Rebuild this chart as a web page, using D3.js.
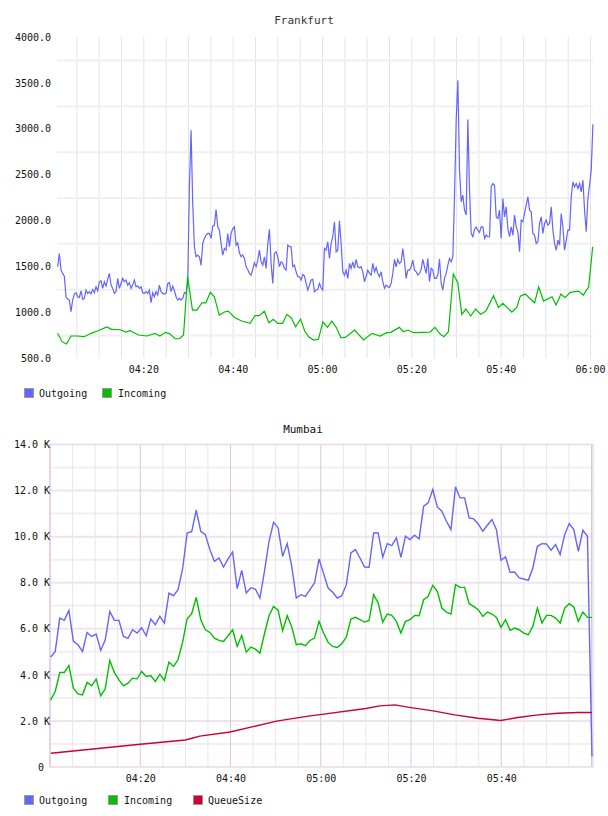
<!DOCTYPE html>
<html><head><meta charset="utf-8">
<script src="https://cdn.jsdelivr.net/npm/d3@7"></script>
<style>body{margin:0;background:#fff} svg{display:block}</style>
</head><body><svg id="c" width="608" height="816"></svg>
<script>
// ---------------- DATA ----------------
const seriesNames = ["Outgoing", "Incoming", "QueueSize"];
const seriesColors = ["#6464ff", "#00c000", "#cc0033"];

// Frankfurt — Outgoing, sampled every 22.4 s starting 04:00:49
const frankfurtOutStartMin = 0.82;
const frankfurtOutStepMin = 0.3733;
const frankfurtOutgoing = [
1495,1640,1459,1422,1393,1168,1143,1132,1005,1132,
1197,1212,1168,1161,1233,1139,1150,1241,1204,1223,
1197,1248,1212,1277,1233,1331,1342,1259,1331,1284,
1357,1422,1295,1259,1204,1223,1368,1259,1313,1368,
1331,1350,1295,1321,1259,1295,1350,1277,1284,1259,
1277,1212,1204,1223,1204,1241,1103,1212,1168,1223,
1186,1295,1223,1204,1197,1204,1313,1321,1223,1284,
1233,1168,1132,1150,1132,1150,1212,1204,1313,2366,
2984,2185,1713,1604,1622,1604,1513,1749,1804,1840,
1858,1858,1804,1938,1949,2119,1931,1894,1749,1622,
1695,1676,1858,1713,1858,1912,1931,1731,1756,1647,
1604,1622,1586,1495,1466,1422,1404,1466,1538,1495,
1567,1676,1549,1513,1604,1477,1749,1902,1531,1313,
1640,1658,1604,1495,1549,1531,1477,1459,1731,1713,
1713,1495,1513,1440,1386,1386,1350,1411,1393,1313,
1241,1295,1350,1357,1223,1241,1248,1313,1266,1241,
1695,1676,
1767,1585,1749,1822,1985,1658,1676,1996,1749,1440,
1404,1458,1368,1531,1477,1549,1477,1575,1495,1484,
1495,1440,1331,1393,1458,1422,1404,1531,1440,1487,
1422,1386,1440,1331,1259,1295,1277,1270,1313,1422,
1575,1495,1575,1531,1549,1694,1549,1368,1458,1458,
1495,1567,1458,1440,1404,1422,1466,1575,1495,1422,
1585,1331,1477,1458,1368,1368,1404,1578,1313,1241,
1368,1422,1513,1585,1549,1604,2257,3092,3528,2548,
2203,2275,2112,2058,3100,2330,1858,1822,1901,1930,
1894,1869,1930,1930,1803,1840,1822,1822,2366,2402,
2384,2039,2021,2112,1803,2239,2039,2148,1912,1822,
1930,1840,2058,1930,1876,1658,2003,1985,2076,2166,
2257,2112,2094,1858,1840,1749,1767,1967,2039,1858,
1967,2003,1949,1967,2148,1894,1749,1676,1785,1731,
2076,1930,1676,1785,1894,1894,2257,2421,2366,2402,
2348,2402,2312,2439,2112,1876,2239,2384,2548,3049
];

// Frankfurt — Incoming (minutes after 04:00, values)
const frankfurtInMinutes = [0.8,1.8,2.8,3.8,5.1,6.8,8.3,9.9,11.8,12.9,14.8,16.1,17.0,18.9,20.8,22.6,23.7,25.0,26.0,27.1,28.1,29.0,29.9,31.0,32.0,33.1,34.0,35.0,35.9,37.0,38.3,39.0,40.5,42.0,43.9,45.0,45.9,47.1,48.1,49.1,50.1,51.2,52.1,53.1,54.1,55.2,56.1,57.0,58.1,59.2,60.2,61.2,62.2,63.3,64.2,65.2,67.3,69.3,71.2,73.0,74.5,75.4,77.3,78.2,79.3,80.5,84.2,85.3,86.5,87.3,88.3,89.4,90.4,91.3,92.2,93.3,94.4,95.5,96.7,98.4,99.5,100.5,102.5,103.6,104.4,105.5,107.6,108.5,109.6,111.5,112.4,113.5,114.4,115.6,117.4,118.5,119.7,120.6];
const frankfurtIncoming = [769,678,652,740,740,732,769,797,838,812,808,783,797,751,740,769,740,780,761,710,710,751,1386,1023,1023,1102,1102,1216,1168,968,1004,1012,939,903,878,961,961,1009,885,921,878,878,976,939,841,925,797,732,696,704,895,834,903,824,721,725,805,696,769,740,776,780,834,786,805,776,783,834,758,732,786,1415,1320,976,1034,958,1034,976,1012,1179,1052,1096,1001,1052,1175,1197,1102,1277,1121,1168,1077,1197,1157,1216,1230,1186,1277,1712];

// Mumbai — sampled about every 60.5 s starting 04:00:09
const mumbaiStartMin = 0.15;
const mumbaiStepMin = 1.008;
const mumbaiOutgoing = [
4770,5016,6465,6364,6799,5451,5306,5016,5842,5668,5770,5060,5524,6755,6364,6364,5668,5581,5958,5813,
6045,5697,6422,6176,6538,6248,7552,7436,7697,8596,10160,10218,11146,10233,10088,9436,8929,9074,8682,9030,
9334,7741,8537,7552,7784,7726,7335,8494,9798,10624,10378,9146,9697,8711,7335,7480,7407,7697,7987,9030,
8393,7770,7582,7335,7437,7915,9292,9437,9074,8683,8668,10161,10161,9103,9697,9610,9944,9103,10016,9871,
10060,9900,11320,11465,12045,11291,11103,10668,10306,12160,11682,11682,10813,10770,10552,10233,10494,10741,10306,8973,
9118,8451,8466,8205,8161,8103,8640,9581,9697,9683,9407,9654,9219,10089,10567,10306,9364,10277,10016,453
];
const mumbaiIncoming = [
2915,3278,4103,4103,4408,3422,3176,3133,3669,3524,3814,3089,3393,4625,4103,3785,3524,3640,3857,3828,
4147,3930,3973,3712,4031,3756,4553,4364,4654,5408,6436,6654,7364,6393,5958,5842,5596,5494,5451,5697,
5958,5234,5712,4987,5205,5118,4944,5784,6567,6972,6799,5915,6567,6074,5306,5350,5263,5494,5596,6320,
5814,5408,5234,5191,5350,5640,6423,6495,6394,6292,6365,7480,7118,6292,6640,6582,6321,5814,6321,6394,
6582,6567,7263,7408,7886,7625,6901,6727,6640,7915,7799,7799,7089,6973,6828,6538,6727,6640,6495,6060,
6394,5930,6031,5959,5814,5741,6104,6901,6249,6582,6582,6466,6249,6901,7089,6944,6321,6727,6495,6495
];
// Mumbai — QueueSize (minutes after 04:00, values)
const mumbaiQueueMinutes = [0.2,20,30,31.5,33.2,39.9,45,50.2,57.6,59.4,70,73.1,76.4,80,84.9,89.7,94.8,99.9,103.7,108.1,112.6,117,120.1];
const mumbaiQueueSize = [600,990,1170,1250,1340,1520,1750,1990,2220,2264,2540,2655,2698,2580,2437,2264,2119,2018,2148,2264,2336,2366,2366];

const frankfurtYTicks = [500,1000,1500,2000,2500,3000,3500,4000];
const frankfurtYGrid = [750,1250,1750,2250,2750,3250,3750];
const mumbaiYTicks = [0,2000,4000,6000,8000,10000,12000,14000];
const frankfurtXTicks = ["04:20","04:40","05:00","05:20","05:40","06:00"];
const mumbaiXTicks = ["04:20","04:40","05:00","05:20","05:40"];

// ---------------- DRAWING ----------------
const MONO = "'DejaVu Sans Mono', monospace";
const base = new Date(2000,0,1,4,0,0);
const atMin = m => new Date(base.getTime() + m*60000);
const parseHM = s => { const [h,m] = s.split(":").map(Number); return new Date(2000,0,1,h,m,0); };
const fmtHM = d3.timeFormat("%H:%M");
const svg = d3.select("#c");

function regular(startMin, stepMin, vals) {
  return vals.map((v,i) => ({t: atMin(startMin + i*stepMin), v}));
}
function paired(mins, vals) {
  return vals.map((v,i) => ({t: atMin(mins[i]), v}));
}
function legend(g, items, xs, y) {
  items.forEach((it, i) => {
    g.append("rect").attr("x", xs[i][0] + 0.5).attr("y", y + 0.5).attr("width", 9).attr("height", 9)
      .attr("fill", it.color).attr("stroke", "#999").attr("stroke-width", 1);
    g.append("text").attr("x", xs[i][1]).attr("y", y + 8.5).text(it.name)
      .attr("font-family", MONO).attr("font-size", 10).attr("fill", "#111");
  });
}

// ===== Frankfurt =====
{
  const g = svg.append("g");
  const x = d3.scaleTime().domain([atMin(0.67), atMin(120.67)]).range([57, 593]);
  const y = d3.scaleLinear().domain([500, 4000]).range([358, 37]);

  g.append("text").attr("x", 304).attr("y", 24).attr("text-anchor", "middle")
    .attr("font-family", MONO).attr("font-size", 11).attr("fill", "#333").text("Frankfurt");

  // grid
  const vgrid = d3.timeMinute.every(5).range(atMin(1), atMin(121));
  g.append("g").attr("transform", "translate(0,358)")
    .call(d3.axisBottom(x).tickValues(vgrid).tickSize(-321).tickFormat(""))
    .call(s => s.select(".domain").remove())
    .call(s => s.selectAll("line").attr("stroke", "#e4e4e4"));
  g.append("g").attr("transform", "translate(57,0)")
    .call(d3.axisLeft(y).tickValues(frankfurtYGrid).tickSize(-536).tickFormat(""))
    .call(s => s.select(".domain").remove())
    .call(s => s.selectAll("line").attr("stroke", "#f0f0f0").attr("stroke-width", 2));

  // axes labels
  g.append("g").attr("transform", "translate(51,0)")
    .call(d3.axisLeft(y).tickValues(frankfurtYTicks).tickSize(0).tickPadding(0).tickFormat(d => d.toFixed(1)))
    .call(s => s.select(".domain").remove())
    .call(s => s.selectAll("text").attr("font-family", MONO).attr("font-size", 10).attr("fill", "#111"));
  g.append("g").attr("transform", "translate(0,366)")
    .call(d3.axisBottom(x).tickValues(frankfurtXTicks.map(parseHM)).tickSize(0).tickPadding(0).tickFormat(fmtHM))
    .call(s => s.select(".domain").remove())
    .call(s => s.selectAll("text").attr("font-family", MONO).attr("font-size", 10).attr("fill", "#111"));

  const line = d3.line().x(d => x(d.t)).y(d => y(d.v));
  g.append("path").datum(regular(frankfurtOutStartMin, frankfurtOutStepMin, frankfurtOutgoing))
    .attr("d", line).attr("fill", "none").attr("stroke", seriesColors[0]).attr("stroke-width", 1.2);
  g.append("path").datum(paired(frankfurtInMinutes, frankfurtIncoming))
    .attr("d", line).attr("fill", "none").attr("stroke", seriesColors[1]).attr("stroke-width", 1.2);

  legend(g, [{name: seriesNames[0], color: seriesColors[0]}, {name: seriesNames[1], color: seriesColors[1]}],
    [[24, 39], [102, 118]], 388);
}

// ===== Mumbai =====
{
  const g = svg.append("g");
  const x = d3.scaleTime().domain([atMin(0), atMin(120.33)]).range([50, 593]);
  const y = d3.scaleLinear().domain([0, 14000]).range([767, 444.5]);

  g.append("text").attr("x", 303).attr("y", 433).attr("text-anchor", "middle")
    .attr("font-family", MONO).attr("font-size", 11).attr("fill", "#111").text("Mumbai");

  // grid: horizontal minor/major
  const hAll = d3.range(1000, 14000, 1000);
  hAll.forEach(v => {
    g.append("line").attr("x1", 50).attr("x2", 593).attr("y1", y(v)).attr("y2", y(v))
      .attr("stroke", v % 2000 === 0 ? "#f1e2f1" : "#f2eff2").attr("stroke-width", 2);
  });
  const vAll = d3.timeMinute.every(5).range(atMin(5), atMin(121));
  vAll.forEach(d => {
    const major = d.getMinutes() % 20 === 0;
    g.append("line").attr("x1", x(d)).attr("x2", x(d)).attr("y1", 444.5).attr("y2", 767)
      .attr("stroke", major ? "#dcc6dc" : "#e9e5e9").attr("stroke-width", 1);
  });
  g.append("rect").attr("x", 50).attr("y", 444.5).attr("width", 543).attr("height", 322.5)
    .attr("fill", "none").attr("stroke", "#ead8ea").attr("stroke-width", 1.5);
  g.append("line").attr("x1", 50).attr("x2", 50).attr("y1", 444.5).attr("y2", 767)
    .attr("stroke", "#dcc6dc").attr("stroke-width", 1);

  g.append("g").attr("transform", "translate(50,0)")
    .call(d3.axisLeft(y).tickValues(mumbaiYTicks).tickSize(0).tickPadding(0)
      .tickFormat(d => d === 0 ? "0" : (d/1000).toFixed(1) + " K"))
    .call(s => s.select(".domain").remove())
    .call(s => s.selectAll("text").attr("font-family", MONO).attr("font-size", 10).attr("fill", "#111")
      .attr("dx", d => d === 0 ? -6 : 0));
  g.append("g").attr("transform", "translate(0,775)")
    .call(d3.axisBottom(x).tickValues(mumbaiXTicks.map(parseHM)).tickSize(0).tickPadding(0).tickFormat(fmtHM))
    .call(s => s.select(".domain").remove())
    .call(s => s.selectAll("text").attr("font-family", MONO).attr("font-size", 10).attr("fill", "#111"));

  const line = d3.line().x(d => x(d.t)).y(d => y(d.v));
  g.append("path").datum(regular(mumbaiStartMin, mumbaiStepMin, mumbaiOutgoing))
    .attr("d", line).attr("fill", "none").attr("stroke", seriesColors[0]).attr("stroke-width", 1.4);
  g.append("path").datum(regular(mumbaiStartMin, mumbaiStepMin, mumbaiIncoming))
    .attr("d", line).attr("fill", "none").attr("stroke", seriesColors[1]).attr("stroke-width", 1.4);
  g.append("path").datum(paired(mumbaiQueueMinutes, mumbaiQueueSize))
    .attr("d", line).attr("fill", "none").attr("stroke", seriesColors[2]).attr("stroke-width", 1.4);

  legend(g, seriesNames.map((n, i) => ({name: n, color: seriesColors[i]})),
    [[24, 39], [108, 124], [193, 208]], 795);
}
</script></body></html>
